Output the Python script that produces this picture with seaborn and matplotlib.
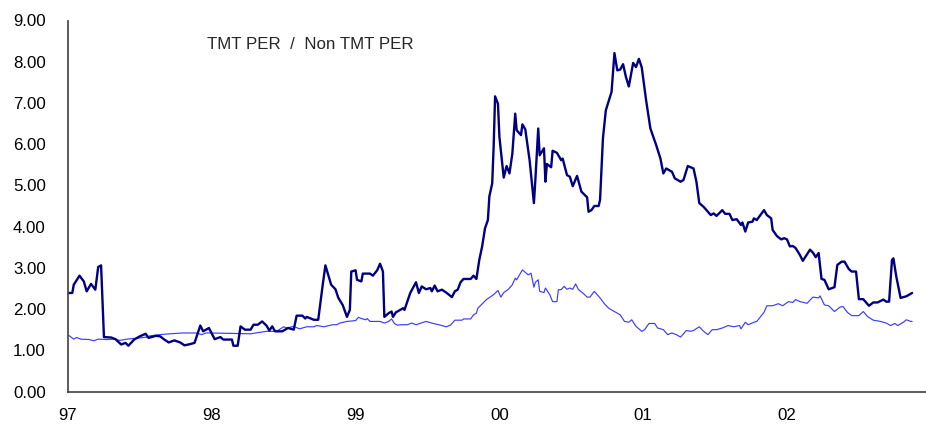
import pandas as pd
import matplotlib
matplotlib.use("Agg")
import matplotlib.pyplot as plt
import seaborn as sns

# years since Jan 1997, TMT PER / Non TMT PER (navy)
tmt_t = [0.00, 0.03, 0.04, 0.08, 0.11, 0.13, 0.16, 0.19, 0.21, 0.23, 0.25, 0.30, 0.33, 0.37,
         0.40, 0.42, 0.46, 0.50, 0.54, 0.56, 0.61, 0.64, 0.67, 0.70, 0.74, 0.78, 0.81, 0.85,
         0.88, 0.92, 0.94, 0.98, 1.02, 1.06, 1.08, 1.14, 1.15, 1.18, 1.20, 1.23, 1.27, 1.29,
         1.32, 1.35, 1.38, 1.40, 1.42, 1.44, 1.49, 1.53, 1.57, 1.59, 1.63, 1.65, 1.66, 1.71,
         1.74, 1.77, 1.79, 1.83, 1.86, 1.88, 1.91, 1.94, 1.96, 1.97, 2.00, 2.01, 2.04, 2.05,
         2.10, 2.12, 2.15, 2.17, 2.19, 2.20, 2.23, 2.25, 2.26, 2.28, 2.31, 2.33, 2.34, 2.38,
         2.42, 2.44, 2.46, 2.49, 2.52, 2.53, 2.55, 2.57, 2.60, 2.63, 2.67, 2.69, 2.71, 2.73,
         2.75, 2.80, 2.82, 2.84, 2.86, 2.88, 2.90, 2.92, 2.93, 2.95, 2.96, 2.97, 2.99, 3.00,
         3.03, 3.05, 3.07, 3.09, 3.11, 3.12, 3.15, 3.16, 3.18, 3.21, 3.24, 3.25, 3.27, 3.28,
         3.31, 3.32, 3.33, 3.36, 3.37, 3.40, 3.43, 3.44, 3.47, 3.49, 3.51, 3.54, 3.57, 3.61,
         3.62, 3.64, 3.66, 3.69, 3.70, 3.72, 3.74, 3.78, 3.80, 3.82, 3.84, 3.86, 3.88, 3.90,
         3.93, 3.95, 3.97, 3.99, 4.02, 4.05, 4.07, 4.09, 4.12, 4.14, 4.16, 4.20, 4.22, 4.26,
         4.28, 4.31, 4.35, 4.37, 4.39, 4.42, 4.45, 4.47, 4.49, 4.51, 4.55, 4.57, 4.60, 4.62,
         4.65, 4.68, 4.69, 4.71, 4.73, 4.76, 4.77, 4.79, 4.84, 4.86, 4.89, 4.90, 4.93, 4.96,
         4.98, 5.00, 5.02, 5.04, 5.06, 5.09, 5.11, 5.16, 5.18, 5.20, 5.22, 5.24, 5.26, 5.29,
         5.33, 5.35, 5.38, 5.40, 5.43, 5.45, 5.48, 5.50, 5.53, 5.57, 5.60, 5.63, 5.67, 5.69,
         5.71, 5.73, 5.74, 5.76, 5.79, 5.83, 5.85, 5.87]
tmt_v = [2.39, 2.39, 2.59, 2.81, 2.67, 2.43, 2.61, 2.47, 3.02, 3.06, 1.32, 1.31, 1.27, 1.14,
         1.18, 1.11, 1.26, 1.34, 1.40, 1.30, 1.35, 1.34, 1.26, 1.19, 1.24, 1.19, 1.12, 1.15,
         1.18, 1.60, 1.46, 1.54, 1.27, 1.32, 1.26, 1.26, 1.11, 1.11, 1.58, 1.50, 1.50, 1.62,
         1.62, 1.70, 1.60, 1.48, 1.58, 1.46, 1.46, 1.54, 1.50, 1.84, 1.84, 1.77, 1.81, 1.74,
         1.74, 2.55, 3.06, 2.59, 2.48, 2.27, 2.10, 1.81, 1.98, 2.91, 2.94, 2.71, 2.67, 2.86,
         2.86, 2.81, 2.94, 3.10, 2.91, 1.81, 1.90, 1.94, 1.81, 1.92, 1.98, 2.02, 1.98, 2.39,
         2.65, 2.39, 2.55, 2.48, 2.51, 2.43, 2.57, 2.43, 2.47, 2.40, 2.29, 2.43, 2.47, 2.65,
         2.73, 2.73, 2.81, 2.73, 3.19, 3.52, 3.96, 4.16, 4.73, 5.05, 5.94, 7.16, 6.98, 6.18,
         5.19, 5.47, 5.29, 5.77, 6.74, 6.34, 6.22, 6.48, 6.36, 5.61, 4.57, 5.13, 6.38, 5.73,
         5.90, 5.09, 5.52, 5.44, 5.84, 5.79, 5.61, 5.65, 5.25, 5.21, 4.98, 5.23, 4.85, 4.71,
         4.36, 4.40, 4.50, 4.50, 4.65, 6.14, 6.82, 7.27, 8.21, 7.79, 7.81, 7.94, 7.63, 7.40,
         7.97, 7.87, 8.07, 7.86, 7.07, 6.38, 6.18, 5.98, 5.65, 5.29, 5.41, 5.33, 5.17, 5.09,
         5.13, 5.47, 5.41, 5.09, 4.57, 4.48, 4.36, 4.28, 4.32, 4.26, 4.40, 4.31, 4.31, 4.16,
         4.18, 4.04, 4.10, 3.88, 4.10, 4.12, 4.20, 4.16, 4.40, 4.28, 4.20, 3.92, 3.77, 3.69,
         3.72, 3.69, 3.52, 3.53, 3.48, 3.31, 3.17, 3.44, 3.37, 3.26, 3.36, 2.73, 2.71, 2.48,
         2.53, 3.07, 3.15, 3.15, 2.97, 2.91, 2.91, 2.24, 2.24, 2.08, 2.16, 2.16, 2.23, 2.18,
         2.18, 3.19, 3.23, 2.79, 2.27, 2.31, 2.35, 2.39]

# second series (thin blue)
blue_t = [0.00, 0.01, 0.04, 0.06, 0.09, 0.15, 0.18, 0.21, 0.27, 0.32, 0.36, 0.41, 0.50, 0.55,
          0.57, 0.64, 0.71, 0.80, 0.89, 0.93, 0.96, 0.99, 1.27, 1.38, 1.45, 1.50, 1.52, 1.57,
          1.61, 1.66, 1.71, 1.73, 1.78, 1.84, 1.87, 1.89, 1.94, 2.00, 2.02, 2.04, 2.07, 2.08,
          2.10, 2.17, 2.20, 2.23, 2.25, 2.27, 2.29, 2.32, 2.36, 2.39, 2.42, 2.49, 2.54, 2.59,
          2.63, 2.66, 2.69, 2.74, 2.75, 2.80, 2.82, 2.84, 2.85, 2.91, 2.96, 2.99, 3.01, 3.03,
          3.06, 3.09, 3.11, 3.12, 3.16, 3.18, 3.20, 3.22, 3.24, 3.25, 3.27, 3.28, 3.31, 3.32,
          3.35, 3.37, 3.40, 3.41, 3.43, 3.45, 3.47, 3.49, 3.51, 3.53, 3.55, 3.58, 3.61, 3.63,
          3.66, 3.70, 3.73, 3.76, 3.80, 3.84, 3.87, 3.90, 3.92, 3.95, 3.99, 4.01, 4.04, 4.08,
          4.10, 4.14, 4.17, 4.20, 4.23, 4.26, 4.30, 4.33, 4.35, 4.39, 4.42, 4.45, 4.48, 4.51,
          4.55, 4.59, 4.63, 4.67, 4.68, 4.71, 4.73, 4.77, 4.79, 4.84, 4.86, 4.90, 4.94, 4.97,
          5.01, 5.04, 5.06, 5.09, 5.14, 5.18, 5.22, 5.23, 5.26, 5.29, 5.33, 5.37, 5.39, 5.42,
          5.45, 5.50, 5.53, 5.56, 5.60, 5.65, 5.69, 5.72, 5.75, 5.77, 5.81, 5.83, 5.86, 5.87]
blue_v = [1.36, 1.35, 1.27, 1.31, 1.27, 1.26, 1.23, 1.27, 1.26, 1.27, 1.24, 1.27, 1.30, 1.32,
          1.35, 1.38, 1.40, 1.42, 1.42, 1.38, 1.42, 1.42, 1.40, 1.46, 1.46, 1.57, 1.54, 1.58,
          1.52, 1.57, 1.57, 1.60, 1.57, 1.62, 1.62, 1.66, 1.70, 1.72, 1.80, 1.77, 1.74, 1.77,
          1.70, 1.70, 1.66, 1.70, 1.76, 1.65, 1.61, 1.62, 1.62, 1.66, 1.62, 1.70, 1.65, 1.61,
          1.57, 1.61, 1.73, 1.73, 1.76, 1.76, 1.86, 1.90, 2.02, 2.23, 2.35, 2.45, 2.29, 2.40,
          2.47, 2.59, 2.75, 2.71, 2.95, 2.89, 2.83, 2.87, 2.53, 2.65, 2.71, 2.43, 2.40, 2.51,
          2.35, 2.18, 2.18, 2.47, 2.47, 2.55, 2.48, 2.51, 2.48, 2.61, 2.47, 2.39, 2.29, 2.29,
          2.43, 2.27, 2.13, 2.02, 1.94, 1.86, 1.70, 1.68, 1.74, 1.58, 1.46, 1.50, 1.65, 1.65,
          1.54, 1.50, 1.38, 1.42, 1.38, 1.32, 1.48, 1.46, 1.48, 1.57, 1.46, 1.38, 1.50, 1.50,
          1.54, 1.60, 1.57, 1.60, 1.52, 1.68, 1.62, 1.68, 1.70, 1.92, 2.08, 2.08, 2.13, 2.08,
          2.18, 2.16, 2.23, 2.18, 2.14, 2.29, 2.27, 2.32, 2.10, 2.08, 1.94, 2.05, 2.06, 1.92,
          1.84, 1.84, 1.94, 1.82, 1.73, 1.70, 1.66, 1.60, 1.65, 1.60, 1.68, 1.74, 1.70, 1.70]

year_ticks = [1997, 1998, 1999, 2000, 2001, 2002]
year_labels = ["97", "98", "99", "00", "01", "02"]
title = "TMT PER  /  Non TMT PER"

sns.set_style("white")
plt.rcParams["font.family"] = ["Liberation Sans", "DejaVu Sans"]

tmt = pd.DataFrame({"year": [1997 + t for t in tmt_t], "ratio": tmt_v})
blue = pd.DataFrame({"year": [1997 + t for t in blue_t], "ratio": blue_v})

fig = plt.figure(figsize=(9.26, 4.32), dpi=100)
ax = fig.add_axes([68 / 926, 40.5 / 432, 1 - 68 / 926, 371 / 432])

sns.lineplot(data=blue, x="year", y="ratio", ax=ax, color="#3c3cff",
             linewidth=0.85, sort=False, estimator=None)
sns.lineplot(data=tmt, x="year", y="ratio", ax=ax, color="#000080",
             linewidth=1.7, sort=False, estimator=None)

ax.set_xlim(1997, 1997 + 858 / 143.8)
ax.set_ylim(0, 9)
ax.set_xticks(year_ticks)
ax.set_xticklabels(year_labels)
ax.set_yticks(range(0, 10))
ax.set_yticklabels([f"{v:.2f}" for v in range(0, 10)])
ax.set_xlabel("")
ax.set_ylabel("")

sns.despine(ax=ax)
for side in ["left", "bottom"]:
    ax.spines[side].set_color("#404040")
    ax.spines[side].set_linewidth(1.2)
ax.tick_params(axis="both", direction="in", length=5, width=1, color="#404040",
               labelsize=12.2, labelcolor="black")
ax.tick_params(axis="y", pad=16)
ax.tick_params(axis="x", pad=12)

ax.text(1997.97, 8.42, title, fontsize=12.2, ha="left", va="center")

fig.savefig("out.png", dpi=100)
